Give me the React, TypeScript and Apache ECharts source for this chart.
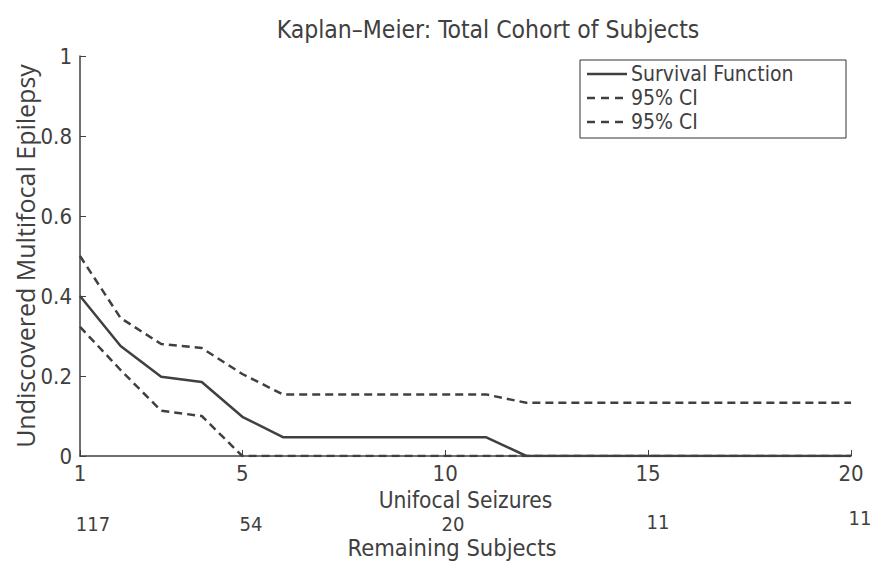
import React, { useEffect, useRef } from "react";
import * as echarts from "echarts";

const unifocalSeizures = [1, 2, 3, 4, 5, 6, 7, 8, 9, 10, 11, 12, 13, 14, 15, 16, 17, 18, 19, 20];
const survivalFunction = [0.4, 0.275, 0.198, 0.185, 0.098, 0.047, 0.047, 0.047, 0.047, 0.047, 0.047, 0, 0, 0, 0, 0, 0, 0, 0, 0];
const upperCI = [0.5, 0.345, 0.28, 0.27, 0.205, 0.154, 0.154, 0.154, 0.154, 0.154, 0.154, 0.133, 0.133, 0.133, 0.133, 0.133, 0.133, 0.133, 0.133, 0.133];
const lowerCI = [0.323, 0.215, 0.113, 0.1, 0, 0, 0, 0, 0, 0, 0, 0, 0, 0, 0, 0, 0, 0, 0, 0];
const xTickValues = [1, 5, 10, 15, 20];
const yTickValues = [0, 0.2, 0.4, 0.6, 0.8, 1];
const remainingSubjects = ["117", "54", "20", "11", "11"];
const legendLabels = ["Survival Function", "95% CI", "95% CI"];

const FONT = "'Liberation Sans Narrow', 'DejaVu Sans Condensed', 'Open Sans', sans-serif";
const WIDE = "'Open Sans', sans-serif";
const INK = "#404040";

export default function App() {
  const ref = useRef<HTMLDivElement>(null);
  useEffect(() => {
    if (!ref.current) return;
    const chart = echarts.init(ref.current, undefined, { renderer: "svg" });
    const pairs = (vals: number[]) => unifocalSeizures.map((x, i) => [x, vals[i]]);
    const remPos = [
      [93, 524],
      [251, 524],
      [453, 524],
      [658, 522],
      [860, 518],
    ];
    const legendRows = [74, 98, 122];
    const legendGraphics: any[] = [];
    legendLabels.forEach((t, i) => {
      legendGraphics.push({
        type: "line",
        shape: { x1: 587, y1: legendRows[i], x2: 627, y2: legendRows[i] },
        style: { stroke: INK, lineWidth: 2.5, lineDash: i === 0 ? null : [8, 6] },
        z: 10,
      });
      legendGraphics.push({
        type: "text",
        x: 631,
        y: legendRows[i],
        style: { text: t, fontFamily: FONT, fontSize: 21, fill: INK, align: "left", verticalAlign: "middle" },
        z: 10,
      });
    });
    chart.setOption({
      animation: false,
      backgroundColor: "#ffffff",
      title: {
        text: "Kaplan–Meier: Total Cohort of Subjects",
        left: 483,
        top: 12,
        textAlign: "center",
        textStyle: { fontFamily: FONT, fontSize: 24.5, fontWeight: "normal", color: INK },
      },
      grid: { left: 80, right: 21, top: 56, bottom: 105, containLabel: false, outerBoundsMode: "none" },
      xAxis: {
        type: "value",
        min: 1,
        max: 20,
        name: "Unifocal Seizures",
        nameLocation: "middle",
        nameGap: 23,
        nameTextStyle: { fontFamily: FONT, fontSize: 22.5, color: INK },
        splitLine: { show: false },
        axisLine: { lineStyle: { color: INK, width: 1.5 } },
        axisTick: { inside: true, length: 6, lineStyle: { color: INK }, customValues: xTickValues },
        axisLabel: { customValues: xTickValues, fontFamily: FONT, fontSize: 22, color: INK, margin: 6 },
      },
      yAxis: {
        type: "value",
        min: 0,
        max: 1,
        name: "Undiscovered Multifocal Epilepsy",
        nameLocation: "middle",
        nameRotate: 90,
        nameGap: 43,
        nameMoveOverlap: false,
        nameTextStyle: { fontFamily: WIDE, fontSize: 25, color: INK },
        splitLine: { show: false },
        axisLine: { show: true, lineStyle: { color: INK, width: 1.5 } },
        axisTick: { show: true, inside: true, length: 6, lineStyle: { color: INK }, customValues: yTickValues },
        axisLabel: { customValues: yTickValues, fontFamily: FONT, fontSize: 22, color: INK, margin: 8 },
      },
      series: [
        {
          name: "Survival Function",
          type: "line",
          data: pairs(survivalFunction),
          showSymbol: false,
          symbol: "none",
          lineStyle: { color: INK, width: 2.5 },
          itemStyle: { color: INK },
          z: 3,
        },
        {
          name: "95% CI upper",
          type: "line",
          data: pairs(upperCI),
          showSymbol: false,
          symbol: "none",
          lineStyle: { color: INK, width: 2.5, type: [8, 5] },
          itemStyle: { color: INK },
        },
        {
          name: "95% CI lower",
          type: "line",
          data: pairs(lowerCI),
          showSymbol: false,
          symbol: "none",
          lineStyle: { color: INK, width: 2.5, type: [8, 5] },
          itemStyle: { color: INK },
        },
      ],
      graphic: [
        {
          type: "rect",
          shape: { x: 580, y: 60, width: 266, height: 78 },
          style: { fill: "#ffffff", stroke: "#333333", lineWidth: 1 },
          z: 5,
          silent: true,
        },
        ...legendGraphics,
        ...remainingSubjects.map((t, i) => ({
          type: "text",
          x: remPos[i][0],
          y: remPos[i][1],
          style: {
            text: t,
            fontFamily: FONT,
            fontSize: 20,
            fill: INK,
            align: "center",
            verticalAlign: "middle",
          },
        })),
        {
          type: "text",
          x: 452,
          y: 548,
          style: {
            text: "Remaining Subjects",
            fontFamily: FONT,
            fontSize: 23.5,
            fill: INK,
            align: "center",
            verticalAlign: "middle",
          },
        },
      ],
    });
    return () => chart.dispose();
  }, []);
  return <div ref={ref} style={{ width: 872, height: 561, position: "absolute", left: 0, top: 0 }} />;
}
